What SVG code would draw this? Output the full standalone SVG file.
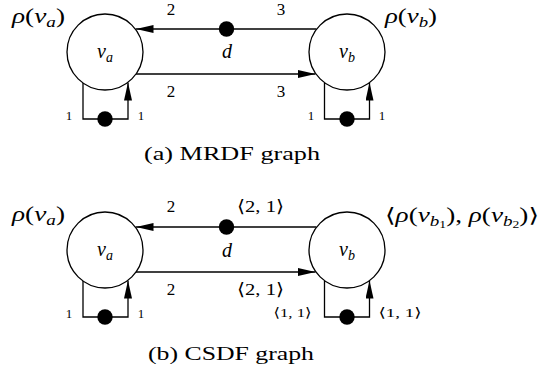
<svg xmlns="http://www.w3.org/2000/svg" width="541" height="372" viewBox="0 0 541 372">
<defs>
<style>
text{font-family:"Liberation Serif","DejaVu Serif",serif}
.node{fill:#fff;stroke:#000;stroke-width:1.3}
.edge{fill:none;stroke:#000;stroke-width:1.3}
.tok{fill:#000}
.lbl{font-size:17px;text-anchor:middle}
.sm{font-size:13px;text-anchor:middle}
.math{font-size:20px}
.it{font-style:italic}
.cap{font-size:19px;text-anchor:middle}
</style>
<marker id="arr" markerUnits="userSpaceOnUse" markerWidth="18" markerHeight="8" refX="18" refY="4" orient="auto">
<path d="M0,0 L18,4 L0,8 z" fill="#000"/>
</marker>
</defs>
<rect width="541" height="372" fill="#fff"/>

<!-- (a) MRDF graph -->
<g id="connectors-a">
<line class="edge" x1="316.5" y1="29" x2="135.5" y2="29" marker-end="url(#arr)"/>
<line class="edge" x1="136" y1="74" x2="315.5" y2="74" marker-end="url(#arr)"/>
<path class="edge" d="M83,83 V119 H128 V82.5" marker-end="url(#arr)"/>
<path class="edge" d="M324.5,83 V119 H369.5 V82.5" marker-end="url(#arr)"/>
<circle class="tok" cx="226.5" cy="29" r="7.7"/>
<circle class="tok" cx="105" cy="119" r="7.7"/>
<circle class="tok" cx="347" cy="119" r="7.7"/>
<text class="lbl" x="171" y="15">2</text>
<text class="lbl" x="281" y="15">3</text>
<text class="math it" x="227" y="58" text-anchor="middle">d</text>
<text class="lbl" x="171" y="97">2</text>
<text class="lbl" x="281" y="97">3</text>
<text class="sm" x="69" y="120">1</text>
<text class="sm" x="141" y="120">1</text>
<text class="sm" x="311" y="120">1</text>
<text class="sm" x="382" y="120">1</text>
</g>
<g id="va-a">
<circle class="node" cx="105" cy="52" r="38"/>
<text class="math" x="105" y="58" text-anchor="middle"><tspan class="it">v</tspan><tspan class="it" font-size="14" dy="4">a</tspan></text>
<text class="math" x="12" y="23" textLength="53" lengthAdjust="spacingAndGlyphs"><tspan class="it">ρ</tspan>(<tspan class="it">v</tspan><tspan class="it" font-size="14" dy="4">a</tspan><tspan dy="-4">)</tspan></text>
</g>
<g id="vb-a">
<circle class="node" cx="347" cy="52" r="38"/>
<text class="math" x="347" y="58" text-anchor="middle"><tspan class="it">v</tspan><tspan class="it" font-size="14" dy="4">b</tspan></text>
<text class="math" x="385" y="23" textLength="52" lengthAdjust="spacingAndGlyphs"><tspan class="it">ρ</tspan>(<tspan class="it">v</tspan><tspan class="it" font-size="14" dy="4">b</tspan><tspan dy="-4">)</tspan></text>
</g>
<text class="cap" x="232" y="160" textLength="176" lengthAdjust="spacingAndGlyphs">(a) MRDF graph</text>

<!-- (b) CSDF graph -->
<g id="connectors-b">
<line class="edge" x1="316.5" y1="227" x2="135.5" y2="227" marker-end="url(#arr)"/>
<line class="edge" x1="136" y1="272" x2="315.5" y2="272" marker-end="url(#arr)"/>
<path class="edge" d="M83,281 V317 H128 V280.5" marker-end="url(#arr)"/>
<path class="edge" d="M324.5,281 V317 H369.5 V280.5" marker-end="url(#arr)"/>
<circle class="tok" cx="226.5" cy="227" r="7.7"/>
<circle class="tok" cx="105" cy="317" r="7.7"/>
<circle class="tok" cx="347" cy="317" r="7.7"/>
<text class="lbl" x="171" y="212">2</text>
<text class="lbl" x="260.5" y="212" textLength="47" lengthAdjust="spacingAndGlyphs">⟨2, 1⟩</text>
<text class="math it" x="227" y="257" text-anchor="middle">d</text>
<text class="lbl" x="171" y="295">2</text>
<text class="lbl" x="260.5" y="295" textLength="47" lengthAdjust="spacingAndGlyphs">⟨2, 1⟩</text>
<text class="sm" x="69" y="318">1</text>
<text class="sm" x="141" y="318">1</text>
<text class="sm" x="292.5" y="317" textLength="38" lengthAdjust="spacingAndGlyphs">⟨1, 1⟩</text>
<text class="sm" x="400" y="317" textLength="43" lengthAdjust="spacingAndGlyphs">⟨1, 1⟩</text>
</g>
<g id="va-b">
<circle class="node" cx="105" cy="250" r="38"/>
<text class="math" x="105" y="256" text-anchor="middle"><tspan class="it">v</tspan><tspan class="it" font-size="14" dy="4">a</tspan></text>
<text class="math" x="12" y="221" textLength="53" lengthAdjust="spacingAndGlyphs"><tspan class="it">ρ</tspan>(<tspan class="it">v</tspan><tspan class="it" font-size="14" dy="4">a</tspan><tspan dy="-4">)</tspan></text>
</g>
<g id="vb-b">
<circle class="node" cx="347" cy="250" r="38"/>
<text class="math" x="347" y="256" text-anchor="middle"><tspan class="it">v</tspan><tspan class="it" font-size="14" dy="4">b</tspan></text>
<text class="math" x="385" y="222" textLength="154" lengthAdjust="spacingAndGlyphs">⟨<tspan class="it">ρ</tspan>(<tspan class="it">v</tspan><tspan class="it" font-size="14" dy="4">b</tspan><tspan font-size="10" dy="2">1</tspan><tspan dy="-6">), </tspan><tspan class="it">ρ</tspan>(<tspan class="it">v</tspan><tspan class="it" font-size="14" dy="4">b</tspan><tspan font-size="10" dy="2">2</tspan><tspan dy="-6">)⟩</tspan></text>
</g>
<text class="cap" x="231" y="360" textLength="166" lengthAdjust="spacingAndGlyphs">(b) CSDF graph</text>
</svg>
